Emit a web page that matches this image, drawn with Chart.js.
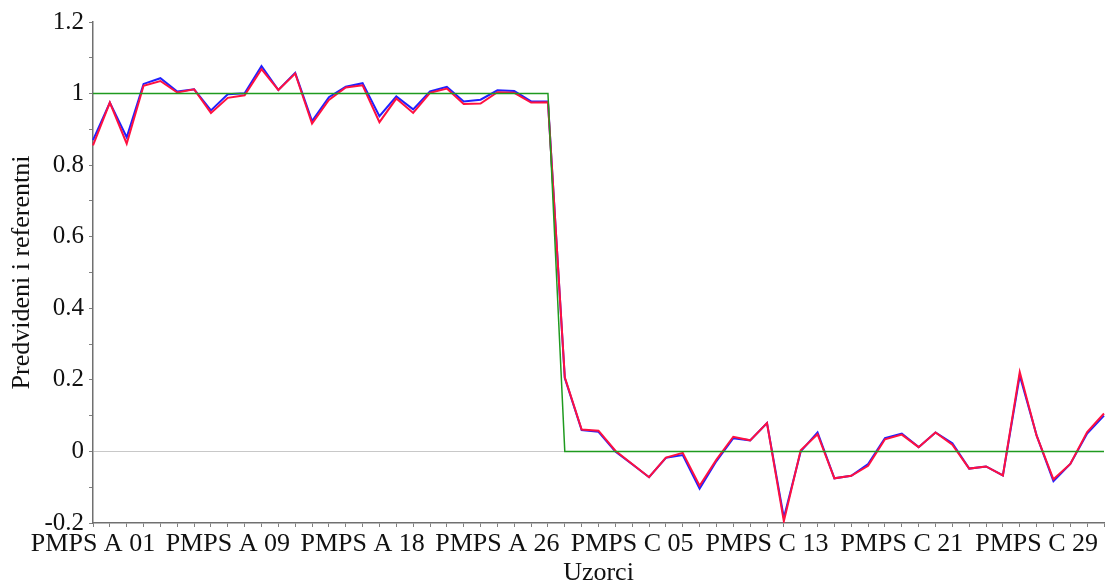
<!DOCTYPE html>
<html>
<head>
<meta charset="utf-8">
<title>Predvideni i referentni</title>
<script src="https://cdn.jsdelivr.net/npm/chart.js@4.4.1/dist/chart.umd.min.js"></script>
<style>
    html, body { margin: 0; padding: 0; background: #ffffff; }
    .chart-box { width: 1106px; height: 585px; position: relative; }
</style>
</head>
<body>
<div class="chart-box">
    <canvas id="predChart"></canvas>
</div>
<script>
// Sample names (A group, then C group)
const samples = [
    'PMPS A 01', 'PMPS A 02', 'PMPS A 03', 'PMPS A 04', 'PMPS A 05', 'PMPS A 06', 'PMPS A 07',
    'PMPS A 08', 'PMPS A 09', 'PMPS A 10', 'PMPS A 11', 'PMPS A 13', 'PMPS A 14', 'PMPS A 15',
    'PMPS A 16', 'PMPS A 17', 'PMPS A 18', 'PMPS A 19', 'PMPS A 20', 'PMPS A 21', 'PMPS A 22',
    'PMPS A 23', 'PMPS A 24', 'PMPS A 25', 'PMPS A 26', 'PMPS A 27', 'PMPS A 28', 'PMPS A 29',
    'PMPS C 01', 'PMPS C 02', 'PMPS C 03', 'PMPS C 04', 'PMPS C 05', 'PMPS C 06', 'PMPS C 07',
    'PMPS C 08', 'PMPS C 09', 'PMPS C 10', 'PMPS C 11', 'PMPS C 12', 'PMPS C 13', 'PMPS C 14',
    'PMPS C 15', 'PMPS C 16', 'PMPS C 17', 'PMPS C 18', 'PMPS C 19', 'PMPS C 20', 'PMPS C 21',
    'PMPS C 22', 'PMPS C 23', 'PMPS C 24', 'PMPS C 25', 'PMPS C 26', 'PMPS C 27', 'PMPS C 28',
    'PMPS C 29', 'PMPS C 30', 'PMPS C 31', 'PMPS C 32', 'PMPS C 33'
];

// Reference values (1 = A, 0 = C)
const referentni = [
    1, 1, 1, 1, 1, 1, 1, 1, 1, 1, 1, 1, 1, 1, 1, 1, 1, 1, 1, 1, 1, 1, 1, 1, 1, 1, 1, 1,
    0, 0, 0, 0, 0, 0, 0, 0, 0, 0, 0, 0, 0, 0, 0, 0, 0, 0, 0, 0, 0, 0, 0, 0, 0, 0, 0, 0,
    0, 0, 0, 0, 0
];

// Predicted values, blue series
const predvideniPlavi = [
    0.870, 0.975, 0.878, 1.027, 1.043, 1.006, 1.012, 0.953, 0.998, 1.001,
    1.077, 1.010, 1.058, 0.923, 0.990, 1.019, 1.029, 0.937, 0.992, 0.956,
    1.006, 1.019, 0.978, 0.983, 1.009, 1.007, 0.978, 0.978,
    0.205, 0.060, 0.055, 0.000, -0.036, -0.072, -0.018, -0.010, -0.104, -0.027,
    0.037, 0.031, 0.079, -0.185, 0.000, 0.053, -0.075, -0.068, -0.035, 0.037,
    0.050, 0.012, 0.053, 0.023, -0.048, -0.042, -0.067, 0.212, 0.045, -0.083,
    -0.035, 0.050, 0.100
];

// Predicted values, red series
const predvideniCrveni = [
    0.855, 0.975, 0.860, 1.022, 1.035, 1.003, 1.012, 0.946, 0.988, 0.995,
    1.068, 1.010, 1.056, 0.916, 0.982, 1.017, 1.023, 0.920, 0.986, 0.946,
    1.002, 1.014, 0.971, 0.972, 1.004, 1.002, 0.975, 0.976,
    0.207, 0.061, 0.058, 0.002, -0.035, -0.072, -0.017, -0.004, -0.096, -0.023,
    0.041, 0.031, 0.079, -0.195, 0.003, 0.048, -0.075, -0.068, -0.040, 0.034,
    0.047, 0.012, 0.053, 0.019, -0.048, -0.042, -0.067, 0.222, 0.044, -0.078,
    -0.035, 0.054, 0.106
];

// Only every 8th sample name is printed under the axis
const labelEvery = 8;

const serifFont = '"Liberation Serif", "Times New Roman", serif';

const ctx = document.getElementById('predChart').getContext('2d');
const predChart = new Chart(ctx, {
    type: 'line',
    data: {
        labels: samples,
        datasets: [
            {
                label: 'Referentni',
                data: referentni,
                borderColor: '#1f9a1f',
                borderWidth: 1.5,
                pointRadius: 0,
                tension: 0
            },
            {
                label: 'Predvideni 2',
                data: predvideniCrveni,
                borderColor: '#ff1040',
                borderWidth: 2,
                pointRadius: 0,
                tension: 0
            },
            {
                label: 'Predvideni 1',
                data: predvideniPlavi,
                borderColor: '#2020ff',
                borderWidth: 2,
                pointRadius: 0,
                tension: 0
            }
        ]
    },
    options: {
        responsive: true,
        maintainAspectRatio: false,
        animation: false,
        layout: {
            padding: { top: 22, right: 2, left: 0, bottom: 0 }
        },
        plugins: {
            legend: { display: false },
            tooltip: { enabled: false }
        },
        scales: {
            x: {
                offset: false,
                border: { color: '#707070', width: 1.5 },
                grid: {
                    drawOnChartArea: false,
                    tickLength: 4,
                    tickColor: '#808080'
                },
                ticks: {
                    autoSkip: false,
                    maxRotation: 0,
                    minRotation: 0,
                    padding: 2,
                    color: '#111111',
                    font: { family: serifFont, size: 26 },
                    callback: function(value, index) {
                        return index % labelEvery === 0 ? this.getLabelForValue(value) : '';
                    }
                },
                title: {
                    display: true,
                    text: 'Uzorci',
                    color: '#111111',
                    padding: { top: 2, bottom: 0 },
                    font: { family: serifFont, size: 26, lineHeight: 0.9 }
                },
                afterFit: (scale) => { scale.height = 62; }
            },
            y: {
                min: -0.2,
                max: 1.2,
                border: { color: '#707070', width: 1.5 },
                grid: {
                    // only the zero line is drawn inside the plot
                    color: (c) => (c.tick && Math.abs(c.tick.value) < 1e-9 ? '#c8c8c8' : 'rgba(0,0,0,0)'),
                    lineWidth: 1,
                    tickLength: 4,
                    tickColor: '#808080'
                },
                ticks: {
                    stepSize: 0.1,
                    padding: 5,
                    color: '#111111',
                    font: { family: serifFont, size: 25 },
                    callback: (value) => {
                        const tenths = Math.round(value * 10);
                        return tenths % 2 === 0 ? String(tenths / 10) : '';
                    }
                },
                title: {
                    display: true,
                    text: 'Predvideni i referentni',
                    color: '#111111',
                    padding: { top: 7, bottom: 0 },
                    font: { family: serifFont, size: 26 }
                },
                afterFit: (scale) => { scale.width = 93; }
            }
        }
    }
});
</script>
</body>
</html>
